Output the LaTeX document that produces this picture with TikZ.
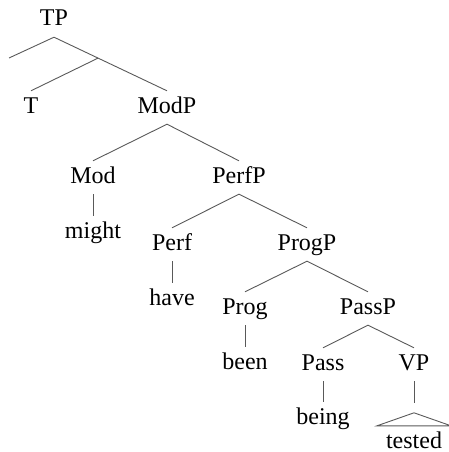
\documentclass[tikz,border=0pt]{standalone}
\usepackage{fontspec}
\setmainfont{Liberation Serif}
\usetikzlibrary{calc}
\begin{document}
\begin{tikzpicture}[x=1pt,y=-1pt,
  lbl/.style={anchor=base,font=\fontsize{24}{28}\selectfont,
    text height=17pt,text depth=6pt,inner xsep=0pt,inner ysep=5pt},
  branch/.style={draw=black!65,line width=0.9pt}]
\useasboundingbox (0,0) rectangle (448,452);

% category and word labels, placed on their baselines
\node[lbl] (TP)    at (54,26)   {TP};
\node[lbl] (T)     at (31,113)  {T};
\node[lbl] (ModP)  at (167,113) {ModP};
\node[lbl] (Mod)   at (93,183)  {Mod};
\node[lbl] (PerfP) at (239,183) {PerfP};
\node[lbl] (might) at (93,238)  {might};
\node[lbl] (Perf)  at (172,250) {Perf};
\node[lbl] (ProgP) at (307,250) {ProgP};
\node[lbl] (have)  at (172,305) {have};
\node[lbl] (Prog)  at (245,314) {Prog};
\node[lbl] (PassP) at (368,314) {PassP};
\node[lbl] (been)  at (245,369) {been};
\node[lbl] (Pass)  at (323,370) {Pass};
\node[lbl] (VP)    at (414,370) {VP};
\node[lbl] (being) at (323,424) {being};
\node[lbl] (tested) at (414,448) {tested};

% TP: empty left branch, and T attached partway down the right branch
\coordinate (tmid) at ($(TP.south)!0.39!(ModP.north)$);
\coordinate (tleft) at (9,58);
\draw[branch] (TP.south) -- (tleft);
\draw[branch] (TP.south) -- (ModP.north);
\draw[branch] (tmid) -- (T.north);

\draw[branch] (Mod.north) -- (ModP.south) -- (PerfP.north);
\draw[branch] (Mod.south) -- (might.north);
\draw[branch] (Perf.north) -- (PerfP.south) -- (ProgP.north);
\draw[branch] (Perf.south) -- (have.north);
\draw[branch] (Prog.north) -- (ProgP.south) -- (PassP.north);
\draw[branch] (Prog.south) -- (been.north);
\draw[branch] (Pass.north) -- (PassP.south) -- (VP.north);
\draw[branch] (Pass.south) -- (being.north);

% VP with a triangle over its unanalysed content
\coordinate (vpend) at ($(VP.south)+(0,22)$);
\draw[branch] (VP.south) -- (vpend);
\draw[branch] ($(tested.north)+(0,-13)$) -- ($(tested.north)+(-37,0)$)
  -- ($(tested.north)+(37,0)$) -- cycle;
\end{tikzpicture}
\end{document}
